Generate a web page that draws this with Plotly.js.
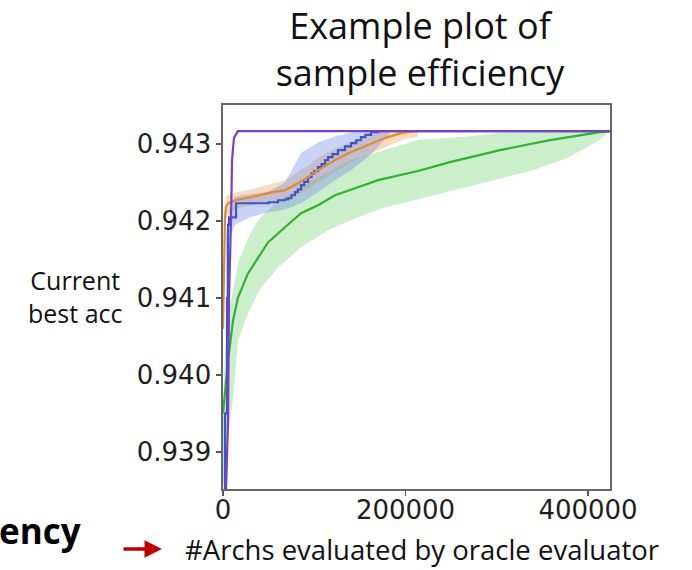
<!DOCTYPE html>
<html>
<head>
<meta charset="utf-8">
<script src="https://cdn.plot.ly/plotly-3.0.1.min.js"></script>
<style>
html,body{margin:0;padding:0;background:#fff;}
#chart{width:692px;height:570px;}
</style>
</head>
<body>
<div id="chart"></div>
<script>
// ---------- data ----------
const titleText = "Example plot of<br>sample efficiency";
const yLabelText = "Current<br>best acc";
const xLabelText = "#Archs evaluated by oracle evaluator";
const cutText = "ency";

const xTickVals = [0, 200000, 400000];
const xTickText = ["0", "200000", "400000"];
const yTickVals = [0.939, 0.940, 0.941, 0.942, 0.943];
const yTickText = ["0.939", "0.940", "0.941", "0.942", "0.943"];

// purple series
const purpleX = [0, 3300, 5500, 6600, 8800, 9900, 12000, 16400, 424100];
const purpleY = [0.9380, 0.9385, 0.9394, 0.9410, 0.94201, 0.94279, 0.94308, 0.943169, 0.943169];

// blue series (step)
const blueX = [0, 2200, 4400, 5500, 6600, 13200, 14300, 40000, 50000, 60300, 68000, 71200, 75000, 78900, 82000, 85500, 89000, 93200, 97000, 100000, 104100, 108000, 112000, 115100, 120000, 126000, 133700, 140300, 146000, 151200, 156000, 162200, 169900, 424100];
const blueY = [0.9384, 0.9395, 0.9410, 0.94195, 0.942049, 0.942049, 0.942231, 0.942231, 0.942244, 0.94227, 0.94228, 0.942296, 0.942335, 0.942375, 0.94241, 0.942466, 0.94251, 0.94257, 0.94262, 0.94265, 0.9427, 0.94274, 0.94279, 0.94283, 0.94287, 0.942922, 0.94297, 0.943013, 0.94305, 0.943091, 0.94312, 0.943156, 0.943169, 0.943169];
const blueBandX = [3300, 6600, 13200, 30000, 49300, 67900, 85500, 104100, 122700, 140300, 158900, 169900, 185000];
const blueUpper = [0.94180, 0.94215, 0.94232, 0.94235, 0.94238, 0.94250, 0.942883, 0.94302, 0.94310, 0.94315, 0.943169, 0.943169, 0.943169];
const blueLower = [0.93920, 0.94175, 0.94195, 0.94205, 0.942114, 0.94215, 0.942231, 0.942375, 0.942531, 0.942661, 0.942831, 0.942961, 0.943169];

// orange series
const orangeX = [0, 1100, 2200, 3300, 5500, 13200, 30700, 49300, 67900, 82200, 93200, 104100, 122700, 140300, 158900, 177500, 195100, 206000, 210000];
const orangeY = [0.9406, 0.94170, 0.94205, 0.942179, 0.942231, 0.94227, 0.942309, 0.942362, 0.942401, 0.942492, 0.94257, 0.942661, 0.942792, 0.942896, 0.942987, 0.943078, 0.943143, 0.943169, 0.943169];
const orangeBandX = [1100, 3300, 5500, 13200, 30700, 49300, 67900, 82200, 93200, 104100, 122700, 140300, 158900, 177500, 195100, 213700];
const orangeUpper = [0.94210, 0.94232, 0.94234, 0.94237, 0.94241, 0.94247, 0.94253, 0.94264, 0.94272, 0.94282, 0.94294, 0.94303, 0.94311, 0.943169, 0.94318, 0.94318];
const orangeLower = [0.94120, 0.94200, 0.94210, 0.94216, 0.94220, 0.94225, 0.94228, 0.94235, 0.94242, 0.94250, 0.94264, 0.94276, 0.94286, 0.94296, 0.94305, 0.94310];

// green series
const greenX = [0, 2200, 5500, 11000, 16400, 27400, 38400, 49300, 67900, 85500, 104100, 122700, 147900, 169900, 213700, 248800, 303600, 358400, 413100, 424100];
const greenY = [0.9395, 0.93975, 0.940186, 0.940707, 0.941006, 0.941319, 0.941528, 0.941723, 0.94192, 0.942101, 0.942205, 0.942335, 0.94244, 0.942531, 0.94265, 0.942765, 0.942922, 0.943052, 0.943156, 0.943169];
const greenUpX = [0, 2200, 5500, 11000, 16400, 27400, 38400, 57000, 85500, 104100, 140300, 177500, 213700, 267400, 303600, 358400, 413100, 424100];
const greenUpper = [0.9396, 0.9403, 0.9408, 0.941098, 0.94145, 0.941775, 0.94201, 0.942231, 0.94244, 0.94257, 0.942792, 0.942922, 0.943052, 0.94310, 0.943143, 0.943156, 0.943160, 0.943169];
const greenLoX = [0, 7700, 11000, 16400, 27400, 41600, 60300, 85500, 115100, 147900, 177500, 213700, 267400, 339700, 377000, 413100, 424100];
const greenLower = [0.9385, 0.939404, 0.939703, 0.940446, 0.940798, 0.941137, 0.941397, 0.941658, 0.941879, 0.942049, 0.942179, 0.942283, 0.94244, 0.942661, 0.942818, 0.943052, 0.943169];

// ---------- helpers ----------
function band(xu, yu, xl, yl, color) {
  return {
    x: xu.concat(xl.slice().reverse()),
    y: yu.concat(yl.slice().reverse()),
    type: 'scatter', mode: 'lines', fill: 'toself',
    fillcolor: color, line: {width: 0}, hoverinfo: 'skip', showlegend: false
  };
}
function line(x, y, color, shape) {
  return {x: x, y: y, type: 'scatter', mode: 'lines',
    line: {color: color, width: 2.2, shape: shape || 'linear'}, showlegend: false};
}

const traces = [
  band(greenUpX, greenUpper, greenLoX, greenLower, 'rgba(130,215,130,0.42)'),
  line(greenX, greenY, '#2fb32f'),
  band(orangeBandX, orangeUpper, orangeBandX, orangeLower, 'rgba(240,165,95,0.40)'),
  band(blueBandX, blueUpper, blueBandX, blueLower, 'rgba(110,140,230,0.38)'),
  line(blueX, blueY, '#3a57c8', 'hv'),
  line(orangeX, orangeY, '#e48a2e'),
  line(purpleX, purpleY, '#7b3fc4')
];

const W = 692, H = 570, L = 223, R = 82, T = 105, B = 81;
const pw = W - L - R, ph = H - T - B;
function px2paperX(px) { return (px - L) / pw; }
function py2paperY(py) { return (H - B - py) / ph; }

const tickFont = {family: 'DejaVu Sans', size: 26, color: '#1e1e1e'};
const textFont = 'Open Sans';

const layout = {
  width: W, height: H,
  margin: {l: L, r: R, t: T, b: B, pad: 0},
  paper_bgcolor: '#ffffff', plot_bgcolor: '#ffffff',
  showlegend: false,
  title: {
    text: titleText,
    font: {family: textFont, size: 36, color: '#111'},
    xref: 'container', yref: 'container',
    x: 420 / W, xanchor: 'center',
    y: 1 - 39 / H, yanchor: 'middle'
  },
  xaxis: {
    range: [0, 424100],
    tickvals: xTickVals, ticktext: xTickText,
    tickfont: tickFont,
    ticks: 'outside', ticklen: 5, tickwidth: 1.3, tickcolor: '#555',
    ticklabelstandoff: -8,
    showline: true, linecolor: '#666', linewidth: 1.6, mirror: true,
    showgrid: false, zeroline: false
  },
  yaxis: {
    range: [0.938518, 0.943508],
    tickvals: yTickVals, ticktext: yTickText,
    tickfont: tickFont,
    ticks: 'outside', ticklen: 5, tickwidth: 1.3, tickcolor: '#555',
    showline: true, linecolor: '#666', linewidth: 1.6, mirror: true,
    showgrid: false, zeroline: false
  },
  annotations: [
    {
      text: yLabelText, xref: 'paper', yref: 'paper',
      x: px2paperX(75), y: py2paperY(296), xanchor: 'center', yanchor: 'middle',
      showarrow: false, align: 'center',
      font: {family: textFont, size: 25, color: '#111'}
    },
    {
      text: xLabelText, xref: 'paper', yref: 'paper',
      x: px2paperX(422), y: py2paperY(549), xanchor: 'center', yanchor: 'middle',
      showarrow: false,
      font: {family: textFont, size: 27.5, color: '#111'}
    },
    {
      text: '<b>' + cutText + '</b>', xref: 'paper', yref: 'paper',
      x: px2paperX(83), y: py2paperY(530), xanchor: 'right', yanchor: 'middle',
      showarrow: false,
      font: {family: textFont, size: 35, color: '#000'}
    },
    {
      text: '', xref: 'paper', yref: 'paper',
      x: px2paperX(162), y: py2paperY(549),
      ax: -40, ay: 0, axref: 'pixel', ayref: 'pixel',
      showarrow: true, arrowhead: 2, arrowsize: 1, arrowwidth: 3.5,
      arrowcolor: '#c00000'
    }
  ]
};

Plotly.newPlot('chart', traces, layout, {staticPlot: true, displayModeBar: false});
</script>
</body>
</html>
